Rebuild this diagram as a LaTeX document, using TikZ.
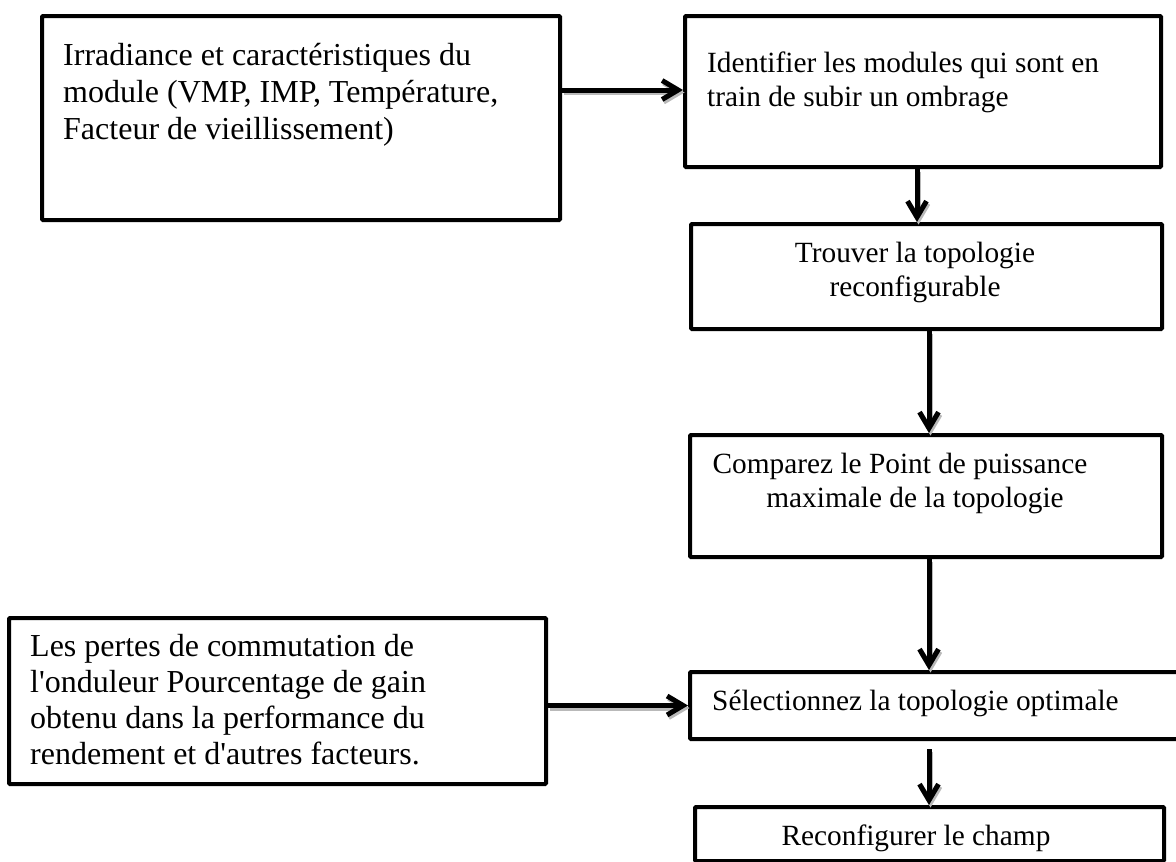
\documentclass[tikz,border=0pt]{standalone}
\usepackage{fontspec}
\newfontfamily\tnr{Liberation Serif}
\usetikzlibrary{arrows.meta}

\newcommand{\bigtxt}{\tnr\fontsize{32}{36.8}\selectfont}
\newcommand{\lowtxt}{\tnr\fontsize{32}{36}\selectfont}
\newcommand{\smalltxt}{\tnr\fontsize{29.33}{34.5}\selectfont}

\begin{document}
\begin{tikzpicture}[
    x=1pt, y=-1pt,
    frame/.style={draw=black, line width=4pt, rounded corners=1pt,
      inner sep=0pt, anchor=north west},
    txt/.style={inner sep=0pt, align=left},
    ctxt/.style={inner sep=0pt, align=center},
    conn/.style={line width=5pt, draw=black,
      -{Straight Barb[length=16pt, width=19pt]},
      preaction={draw=gray!55, line width=5pt,
        transform canvas={shift={(1.5pt,-2.5pt)}}}}
  ]
  \useasboundingbox (0,0) rectangle (1176,862);
  \clip (0,0) rectangle (1176,862);

  % process boxes
  \node[frame, minimum width=518pt, minimum height=204pt] (b1) at (40,14) {};
  \node[frame, minimum width=476pt, minimum height=151pt] (b2) at (683,14) {};
  \node[frame, minimum width=471pt, minimum height=105pt] (b3) at (689,222) {};
  \node[frame, minimum width=472pt, minimum height=122pt] (b4) at (688,433) {};
  \node[frame, minimum width=502pt, minimum height=67pt]  (b5) at (688,670) {};
  \node[frame, minimum width=469pt, minimum height=54pt]  (b6) at (693,805) {};
  \node[frame, minimum width=537pt, minimum height=166pt] (b7) at (7,616) {};

  % box texts (the base anchor sits on the last line)
  \node[txt, font=\bigtxt, anchor=base west] (t1) at (63,139)
    {Irradiance et caractéristiques du\\module (VMP, IMP, Température,\\Facteur de vieillissement)};
  \node[txt, font=\smalltxt, anchor=base west] (t2) at (707,106.5)
    {Identifier les modules qui sont en\\train de subir un ombrage};
  \node[ctxt, font=\smalltxt, anchor=base] (t3) at (915,296.5)
    {Trouver la topologie\\reconfigurable};
  \node[ctxt, font=\smalltxt, anchor=base] (t4) at (915,507.5)
    {Comparez le Point de puissance\hspace*{30pt}\\maximale de la topologie};
  \node[txt, font=\smalltxt, anchor=base west] (t5) at (712,710)
    {Sélectionnez la topologie optimale};
  \node[ctxt, font=\smalltxt, anchor=base] (t6) at (916,845)
    {Reconfigurer le champ};
  \node[txt, font=\lowtxt, anchor=base west] (t7) at (30,764)
    {Les pertes de commutation de\\l'onduleur Pourcentage de gain\\obtenu dans la performance du\\rendement et d'autres facteurs.};

  % connectors
  \draw[conn] ([yshift=-76pt]b1.north east) -- ([yshift=-76pt]b2.north west);
  \draw[conn] ([xshift=-6pt]b2.south) -- ([xshift=-9.5pt]b3.north);
  \draw[conn] ([xshift=2.5pt]b3.south) -- ([xshift=3pt]b4.north);
  \draw[conn] ([xshift=3pt]b4.south) -- ([xshift=-12pt]b5.north);
  \draw[conn] ([xshift=-12pt,yshift=-8pt]b5.south) -- ([xshift=-0.5pt]b6.north);
  \draw[conn] (b7.east |- b5.west) -- (b5.west);
\end{tikzpicture}
\end{document}
